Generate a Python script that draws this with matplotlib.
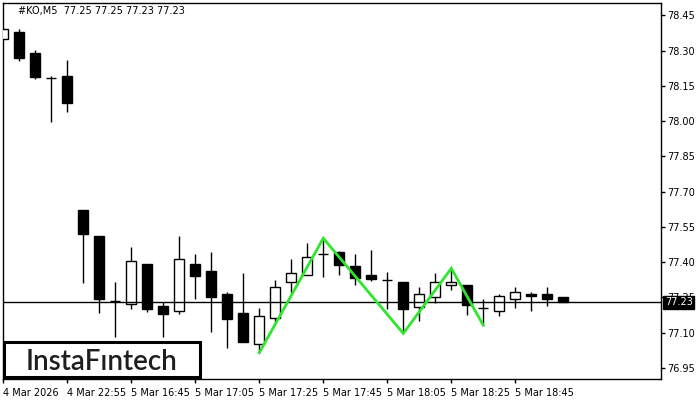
import matplotlib
matplotlib.use("Agg")
import matplotlib.pyplot as plt
from matplotlib.patches import Rectangle

# ---- data ----
opens = [78.348, 78.378, 78.290, 78.182, 78.192, 77.622, 77.511, 77.235, 77.221, 77.392,
         77.214, 77.191, 77.392, 77.363, 77.265, 77.184, 77.054, 77.161, 77.315, 77.344,
         77.434, 77.443, 77.384, 77.347, 77.323, 77.315, 77.211, 77.253, 77.302, 77.303,
         77.205, 77.191, 77.242, 77.263, 77.263, 77.25]
highs = [78.391, 78.392, 78.303, 78.192, 78.260, 77.622, 77.511, 77.317, 77.465, 77.392,
         77.232, 77.511, 77.435, 77.443, 77.273, 77.354, 77.204, 77.324, 77.414, 77.480,
         77.502, 77.446, 77.434, 77.451, 77.360, 77.315, 77.295, 77.353, 77.374, 77.303,
         77.244, 77.263, 77.293, 77.272, 77.293, 77.25]
lows = [78.348, 78.257, 78.179, 77.998, 78.040, 77.313, 77.183, 77.083, 77.202, 77.188,
        77.083, 77.181, 77.242, 77.102, 77.034, 77.062, 77.015, 77.147, 77.268, 77.344,
        77.336, 77.344, 77.303, 77.321, 77.202, 77.097, 77.151, 77.226, 77.283, 77.174,
        77.132, 77.172, 77.204, 77.191, 77.212, 77.23]
closes = [78.391, 78.270, 78.188, 78.182, 78.078, 77.521, 77.242, 77.235, 77.405, 77.202,
          77.181, 77.414, 77.343, 77.253, 77.160, 77.062, 77.173, 77.293, 77.353, 77.421,
          77.434, 77.389, 77.332, 77.330, 77.323, 77.202, 77.263, 77.315, 77.315, 77.219,
          77.205, 77.255, 77.272, 77.255, 77.242, 77.23]

pattern_idx = [16, 20, 25, 28, 30]
pattern_price = [77.015, 77.502, 77.097, 77.374, 77.132]

xtick_idx = [0, 4, 8, 12, 16, 20, 24, 28, 32]
xtick_labels = ["4 Mar 2026", "4 Mar 22:55", "5 Mar 16:45", "5 Mar 17:05", "5 Mar 17:25",
                "5 Mar 17:45", "5 Mar 18:05", "5 Mar 18:25", "5 Mar 18:45"]
yticks = [76.95, 77.10, 77.25, 77.40, 77.55, 77.70, 77.85, 78.00, 78.15, 78.30, 78.45]
last_price = 77.23
title = "#KO,M5  77.25 77.25 77.23 77.23"

# ---- figure ----
W, H = 700, 400
fig = plt.figure(figsize=(7, 4), dpi=100)
fig.patch.set_facecolor("white")
L, R, T, B = 2.7, 660.7, 3.0, 379.3
ax = fig.add_axes([L / W, 1 - B / H, (R - L) / W, (B - T) / H])
ax.set_facecolor("white")

n = len(opens)
xs = list(range(n))
bw = 0.65

# wicks
ax.vlines(xs, lows, highs, color="black", linewidth=1, zorder=2)
# bodies
for i in xs:
    o, c = opens[i], closes[i]
    if abs(c - o) < 1e-6:
        ax.hlines(o, i - bw / 2, i + bw / 2, color="black", linewidth=1, zorder=3)
    else:
        fc = "white" if c > o else "black"
        ax.bar(i, abs(c - o), bottom=min(o, c), width=bw, facecolor=fc,
               edgecolor="black", linewidth=1, zorder=3)

# current price line
ax.axhline(last_price, color="black", linewidth=1, zorder=4)

# pattern
ax.plot(pattern_idx, pattern_price, color="#2ee62e", linewidth=2, zorder=5,
        solid_joinstyle="miter")

ax.set_xlim((L - 3.3) / 16, (R - 3.3) / 16)
ax.set_ylim(76.95 - (B - 368) / 235.1, 76.95 + (368 - T) / 235.1)

ax.yaxis.tick_right()
ax.set_yticks(yticks)
ax.set_yticklabels([f"{v:.2f}" for v in yticks])
ax.set_xticks(xtick_idx)
ax.set_xticklabels(xtick_labels, ha="left")
ax.tick_params(axis="both", direction="out", length=3, width=1, labelsize=7,
               colors="black", pad=2)
ax.tick_params(axis="x", pad=3)
for s in ax.spines.values():
    s.set_color("black")
    s.set_linewidth(1)

# title
ax.text(18 / W, 1 - 11 / H, title, transform=fig.transFigure, fontsize=7,
        va="center", ha="left", color="black")

# last price label
ax.annotate(f"{last_price:.2f}", xy=(1.0, last_price), xycoords=("axes fraction", "data"),
            xytext=(3, 0), textcoords="offset points", fontsize=7, color="white",
            va="center", ha="left",
            bbox=dict(boxstyle="square,pad=0.15", facecolor="black", edgecolor="black"),
            zorder=10, annotation_clip=False)

# logo
rect = Rectangle((4.2 / W, 1 - 376.8 / H), (200.2 - 4.2) / W, (376.8 - 342.2) / H,
                 transform=fig.transFigure, facecolor="white", edgecolor="black",
                 linewidth=2.2, zorder=20)
fig.patches.append(rect)
fig.text(102 / W, 1 - 369.5 / H, "InstaFıntech", fontsize=20, family="Lato",
         fontweight="semibold", color="#1e1e1e", ha="center", va="baseline", zorder=21)

fig.savefig("out.png", dpi=100, facecolor="white")
